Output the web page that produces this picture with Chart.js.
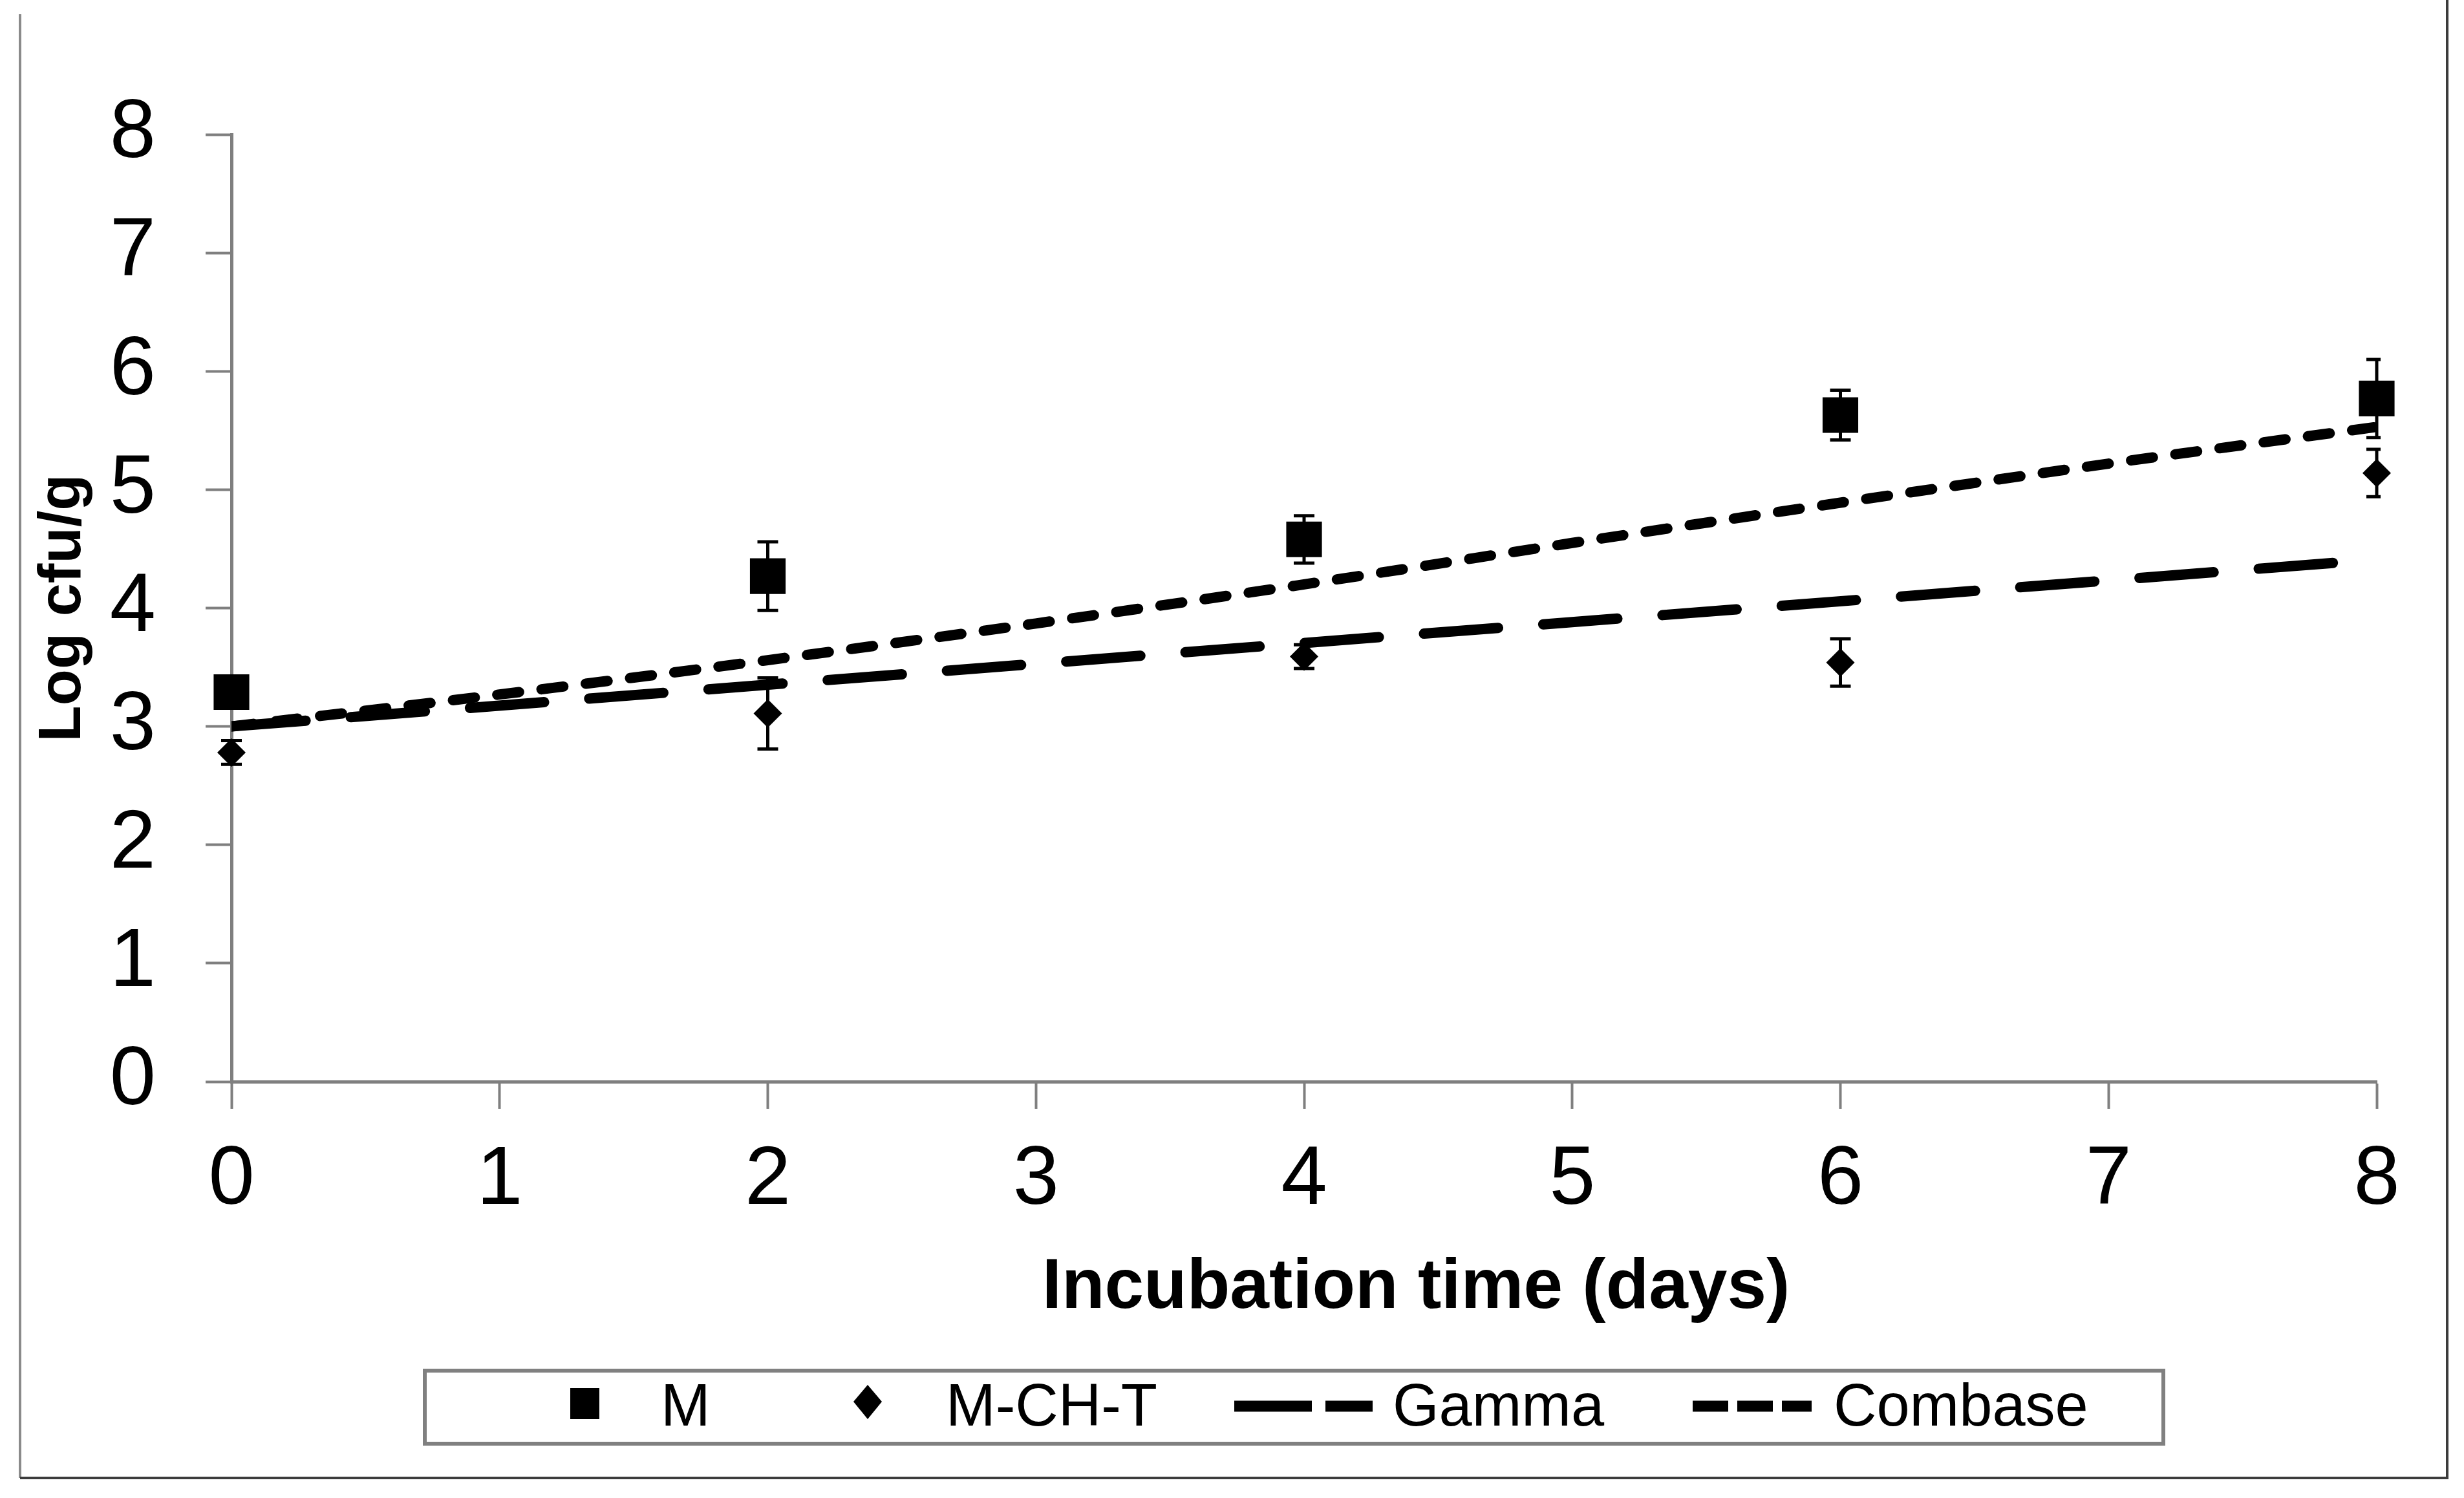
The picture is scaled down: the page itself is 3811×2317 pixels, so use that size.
<!DOCTYPE html>
<html><head><meta charset="utf-8">
<script src="https://cdn.jsdelivr.net/npm/chart.js@4.4.1/dist/chart.umd.min.js"></script>
<style>html,body{margin:0;padding:0;background:#fff;overflow:hidden}canvas{display:block}</style>
</head><body>
<canvas id="c" width="3811" height="2317" style="width:3811px;height:2317px"></canvas>
<script>
// ---- data ----
const days = [0, 2, 4, 6, 8];
const mMean = [3.29, 4.27, 4.58, 5.63, 5.77];
const mErr = [0.1, 0.29, 0.2, 0.21, 0.33];
const mchtMean = [2.78, 3.11, 3.59, 3.54, 5.14];
const mchtErr = [0.1, 0.3, 0.1, 0.2, 0.2];
const gammaDays = [0, 8];
const gammaFit = [3.0, 4.41];
const combaseDays = [0, 1, 2, 3, 4, 5, 6, 7, 8];
const combaseFit = [3.0, 3.27, 3.56, 3.87, 4.2, 4.55, 4.89, 5.22, 5.53];
const xTickLabels = ['0', '1', '2', '3', '4', '5', '6', '7', '8'];
const yTickLabels = ['0', '1', '2', '3', '4', '5', '6', '7', '8'];
const seriesNames = ['M', 'M-CH-T', 'Gamma', 'Combase'];
const xTitle = 'Incubation time (days)';
const yTitle = 'Log cfu/g';

const FONT = "'Liberation Sans', Arial, Helvetica, sans-serif";
const AXIS = '#7f7f7f';

const toXY = (xs, ys) => xs.map((v, i) => ({x: v, y: ys[i]}));

const framePlugin = {
  id: 'frame',
  beforeDraw(chart) {
    const ctx = chart.ctx;
    ctx.save();
    ctx.fillStyle = '#fff';
    ctx.fillRect(0, 0, chart.width, chart.height);
    ctx.lineWidth = 4;
    ctx.strokeStyle = '#8a8a8a';
    ctx.beginPath(); ctx.moveTo(31, 22); ctx.lineTo(31, 2286); ctx.stroke();
    ctx.strokeStyle = '#3c3c3c';
    ctx.beginPath(); ctx.moveTo(31, 2286); ctx.lineTo(3785, 2286); ctx.lineTo(3785, 0); ctx.stroke();
    ctx.restore();
  }
};

const errorBarPlugin = {
  id: 'errorBars',
  beforeDatasetsDraw(chart) {
    const {ctx, chartArea, scales: {x, y}} = chart;
    ctx.save();
    ctx.beginPath();
    ctx.rect(chartArea.left - 60, chartArea.top - 60, chartArea.right - chartArea.left + 66, chartArea.bottom - chartArea.top + 120);
    ctx.clip();
    ctx.strokeStyle = '#000';
    ctx.lineWidth = 5;
    [[mMean, mErr], [mchtMean, mchtErr]].forEach(([mean, err]) => {
      days.forEach((d, i) => {
        const px = x.getPixelForValue(d);
        const top = y.getPixelForValue(mean[i] + err[i]);
        const bot = y.getPixelForValue(mean[i] - err[i]);
        ctx.beginPath();
        ctx.moveTo(px, top); ctx.lineTo(px, bot);
        ctx.moveTo(px - 16, top); ctx.lineTo(px + 16, top);
        ctx.moveTo(px - 16, bot); ctx.lineTo(px + 16, bot);
        ctx.stroke();
      });
    });
    ctx.restore();
  }
};

const titleAndLegendPlugin = {
  id: 'titleLegend',
  afterDraw(chart) {
    const ctx = chart.ctx;
    ctx.save();
    // x axis title
    ctx.fillStyle = '#000';
    ctx.font = 'bold 109px ' + FONT;
    ctx.textAlign = 'center';
    ctx.textBaseline = 'alphabetic';
    ctx.fillText(xTitle, 2190, 2023);

    // legend box
    ctx.strokeStyle = '#808080';
    ctx.lineWidth = 6;
    ctx.strokeRect(657, 2120, 3346 - 657, 2233 - 2120);

    // M marker
    ctx.fillStyle = '#000';
    ctx.fillRect(882, 2147, 45, 48);
    // M-CH-T marker (diamond)
    ctx.beginPath();
    ctx.moveTo(1342, 2142); ctx.lineTo(1364, 2168); ctx.lineTo(1342, 2195); ctx.lineTo(1320, 2168);
    ctx.closePath(); ctx.fill();
    // Gamma sample
    ctx.strokeStyle = '#000';
    ctx.lineWidth = 17;
    ctx.lineCap = 'butt';
    ctx.setLineDash([120, 21]);
    ctx.beginPath(); ctx.moveTo(1909, 2175); ctx.lineTo(2123, 2175); ctx.stroke();
    // Combase sample
    ctx.setLineDash([55, 14]);
    ctx.beginPath(); ctx.moveTo(2618, 2175); ctx.lineTo(2802, 2175); ctx.stroke();
    ctx.setLineDash([]);

    ctx.font = '92px ' + FONT;
    ctx.textAlign = 'left';
    ctx.textBaseline = 'alphabetic';
    ctx.fillText(seriesNames[0], 1022, 2205);
    ctx.fillText(seriesNames[1], 1463, 2205);
    ctx.fillText(seriesNames[2], 2154, 2205);
    ctx.fillText(seriesNames[3], 2836, 2205);
    ctx.restore();
  }
};

new Chart(document.getElementById('c'), {
  type: 'line',
  data: {
    datasets: [
      {
        label: seriesNames[0],
        data: toXY(days, mMean),
        showLine: false,
        pointStyle: 'rect',
        pointRadius: 39,
        pointBackgroundColor: '#000',
        pointBorderWidth: 0,
        clip: false
      },
      {
        label: seriesNames[1],
        data: toXY(days, mchtMean),
        showLine: false,
        pointStyle: 'rectRot',
        pointRadius: 22,
        pointBackgroundColor: '#000',
        pointBorderWidth: 0,
        clip: false
      },
      {
        label: seriesNames[2],
        data: toXY(gammaDays, gammaFit),
        borderColor: '#000',
        borderWidth: 16,
        borderDash: [115, 70],
        borderCapStyle: 'round',
        pointRadius: 0,
        fill: false,
        tension: 0
      },
      {
        label: seriesNames[3],
        data: toXY(combaseDays, combaseFit),
        borderColor: '#000',
        borderWidth: 16,
        borderDash: [34, 35],
        borderCapStyle: 'round',
        pointRadius: 0,
        fill: false,
        cubicInterpolationMode: 'monotone'
      }
    ]
  },
  options: {
    responsive: false,
    devicePixelRatio: 1,
    animation: false,
    events: [],
    layout: {padding: {left: 0, top: 208, right: 135, bottom: 2317 - 1673 - 300}},
    plugins: {legend: {display: false}, tooltip: {enabled: false}, title: {display: false}},
    scales: {
      x: {
        type: 'linear', min: 0, max: 8,
        afterFit(s) { s.height = 300; },
        afterBuildTicks(s) { s.ticks = xTickLabels.map(v => ({value: Number(v)})); },
        ticks: {
          callback: (v, i) => xTickLabels[i],
          color: '#000', font: {family: FONT, size: 128}, padding: 35, maxRotation: 0, autoSkip: false
        },
        grid: {drawOnChartArea: false, drawTicks: true, tickLength: 42, tickColor: AXIS, tickWidth: 4},
        border: {display: true, color: AXIS, width: 5}
      },
      y: {
        type: 'linear', min: 0, max: 8,
        afterFit(s) { s.width = 358; },
        afterBuildTicks(s) { s.ticks = yTickLabels.map(v => ({value: Number(v)})); },
        ticks: {
          callback: (v, i) => yTickLabels[i],
          color: '#000', font: {family: FONT, size: 128}, padding: 77, autoSkip: false
        },
        grid: {drawOnChartArea: false, drawTicks: true, tickLength: 40, tickColor: AXIS, tickWidth: 4},
        border: {display: true, color: AXIS, width: 5},
        title: {
          display: true, text: yTitle, color: '#000',
          font: {family: FONT, size: 92, weight: 'bold', lineHeight: 1.2},
          padding: {top: 43, bottom: 0}
        }
      }
    }
  },
  plugins: [framePlugin, errorBarPlugin, titleAndLegendPlugin]
});
</script>
</body></html>
